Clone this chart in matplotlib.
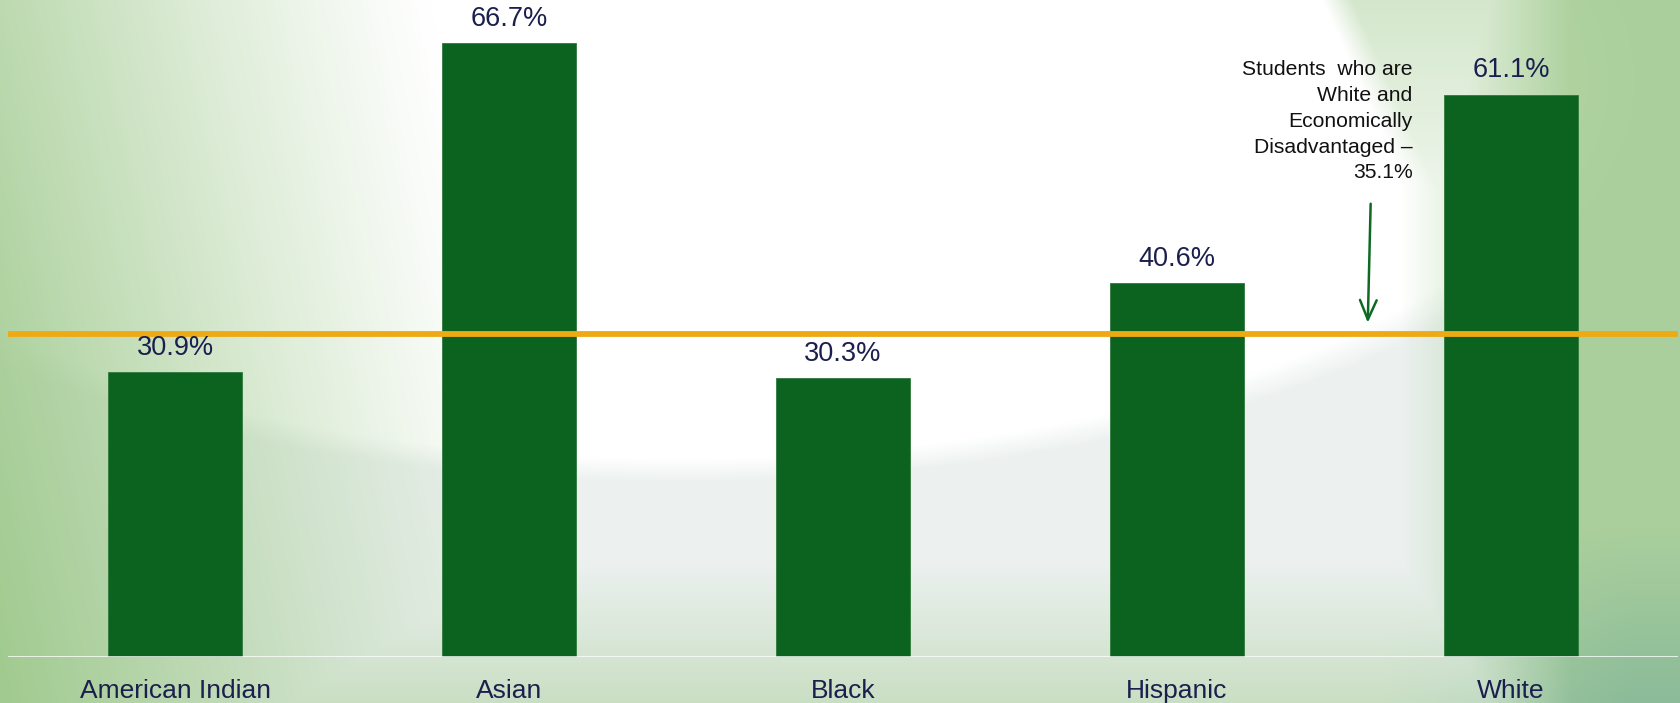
import numpy as np
import matplotlib
matplotlib.use('Agg')
import matplotlib.pyplot as plt

# data
groups = ['American Indian', 'Asian', 'Black', 'Hispanic', 'White']
rates = [30.9, 66.7, 30.3, 40.6, 61.1]
ref_rate = 35.1
ref_note = 'Students  who are\nWhite and\nEconomically\nDisadvantaged \u2013\n35.1%'

bar_color = '#0b631f'
txt_color = '#1b1f4d'
line_color = '#eeaa14'

plt.rcParams['font.family'] = ['Liberation Sans', 'DejaVu Sans']

W, H = 1681, 703
fig = plt.figure(figsize=(W / 100, H / 100), dpi=100)

# background: white arc at the top, pale grey below, green edges
bg = fig.add_axes([0, 0, 1, 1])
yy, xx = np.mgrid[0:H, 0:W].astype(float)
grey = np.array([236, 241, 240]) / 255.
green = np.array([160, 202, 142]) / 255.
teal = np.array([122, 178, 138]) / 255.

img = np.ones((H, W, 3))
d = np.sqrt(((xx - 680) / 930) ** 2 + ((yy - 80) / 390) ** 2)
w_grey = np.clip((d - 0.97) / 0.06, 0, 1)
img = img * (1 - w_grey[..., None]) + grey * w_grey[..., None]

w_left = np.clip(1 - xx / (430 + 0.2 * yy), 0, 1) ** 1.1 * (0.7 + 0.3 * yy / H)
w_right = np.clip((xx - 1400) / 170, 0, 1) * 0.85
w_swoosh = np.clip((xx - 1340 - (yy - 40) * 0.45) / 30, 0, 1) * np.clip(1 - yy / 320, 0, 1) * 0.45
w_bottom = np.clip((yy - 560) / 140, 0, 1) * 0.45
w = np.maximum.reduce([w_left, w_right, w_swoosh, w_bottom])
mix = (np.clip((xx - 1380) / 250, 0, 1) * np.clip((yy - 520) / 180, 0, 1))[..., None]
tint = green * (1 - mix) + teal * mix
img = img * (1 - w[..., None]) + tint * w[..., None]
bg.imshow(img, aspect='auto', extent=(0, 1, 0, 1), origin='upper')
bg.set_axis_off()

px = 9.2  # pixels per percent
base_y = 656.7
ax = fig.add_axes([8 / W, (H - base_y) / H, 1670 / W, base_y / H])
ax.patch.set_alpha(0)
x = np.arange(len(groups))
ax.bar(x, rates, width=0.4, color=bar_color, edgecolor='#2f7a3c', linewidth=0.6, zorder=2)
ax.set_xlim(-0.5, len(groups) - 0.5)
ax.set_ylim(0, base_y / px)

for xi, v in zip(x, rates):
    ax.annotate('%.1f%%' % v, (xi, v), xytext=(0, 8), textcoords='offset points',
                ha='center', va='bottom', fontsize=19.5, color=txt_color, zorder=4)

ax.axhline(ref_rate, color=line_color, lw=4.2, zorder=3, solid_capstyle='round')
ax.axhline(0, color='white', lw=1.8, zorder=3)

ax.text(0.841, 0.908, ref_note, transform=ax.transAxes, ha='right', va='top',
        fontsize=15.2, color='#111111', linespacing=1.45)
ax.annotate('', xy=(3.571, ref_rate + 0.9), xytext=(0.816, 0.694),
            textcoords='axes fraction',
            arrowprops=dict(arrowstyle='->,head_length=1.4,head_width=0.6',
                            color='#0e6a22', lw=1.8))

ax.set_xticks(x)
ax.set_xticklabels(groups, fontsize=19, color=txt_color)
ax.tick_params(axis='x', length=0, pad=16)
ax.set_yticks([])
for s in ax.spines.values():
    s.set_visible(False)

plt.savefig('out.png', dpi=100)
